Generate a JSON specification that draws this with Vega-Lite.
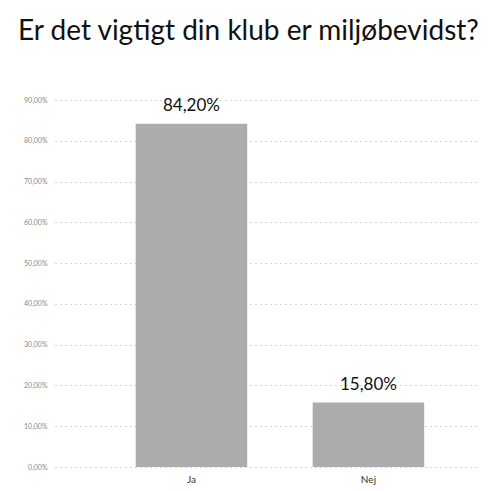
{
  "$schema": "https://vega.github.io/schema/vega-lite/v6.json",
  "width": 423,
  "height": 367,
  "autosize": {"type": "none"},
  "padding": {"left": 55, "top": 100, "right": 12, "bottom": 24},
  "background": "white",
  "title": {
    "text": "Er det vigtigt din klub er miljøbevidst?",
    "anchor": "start",
    "frame": "group",
    "dx": -37,
    "offset": 50,
    "limit": 0,
    "fontSize": 28,
    "font": "Lato",
    "fontWeight": "normal",
    "color": "#111111"
  },
  "data": {
    "values": [
      {"svar": "Ja", "andel": 0.842, "label": "84,20%"},
      {"svar": "Nej", "andel": 0.158, "label": "15,80%"}
    ]
  },
  "encoding": {
    "x": {
      "field": "svar",
      "type": "nominal",
      "sort": null,
      "scale": {"paddingInner": 0.37, "paddingOuter": 0.38, "align": 0.6},
      "axis": {
        "title": null,
        "labelAngle": 0,
        "domain": false,
        "ticks": false,
        "labelFontSize": 10,
        "labelColor": "#333333",
        "labelPadding": 7,
        "labelFont": "Lato"
      }
    },
    "y": {
      "field": "andel",
      "type": "quantitative",
      "scale": {"domain": [0, 0.9]},
      "axis": {
        "title": null,
        "values": [0, 0.1, 0.2, 0.3, 0.4, 0.5, 0.6, 0.7, 0.8, 0.9],
        "labelExpr": "replace(format(datum.value, '.2%'), '.', ',')",
        "domain": false,
        "ticks": false,
        "labelFont": "Lato",
        "labelFontSize": 7,
        "labelColor": "#888888",
        "labelPadding": 8,
        "grid": true,
        "gridColor": "#aaaaaa",
        "gridDash": [1, 4],
        "gridWidth": 1
      }
    }
  },
  "layer": [
    {"mark": {"type": "bar", "color": "#acacac"}},
    {
      "mark": {
        "type": "text",
        "baseline": "bottom",
        "dy": -9,
        "fontSize": 17,
        "font": "Lato",
        "color": "#111111"
      },
      "encoding": {"text": {"field": "label"}}
    }
  ],
  "config": {"view": {"stroke": null}}
}
